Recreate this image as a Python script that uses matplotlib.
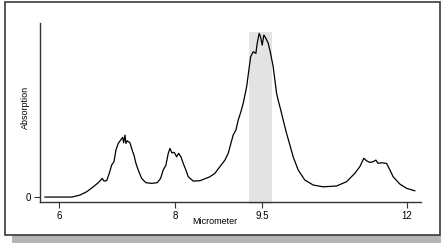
import matplotlib
matplotlib.use("Agg")
import matplotlib.pyplot as plt
from matplotlib.patches import Rectangle

micrometer = [5.753, 6.219, 6.358, 6.473, 6.587, 6.674, 6.743, 6.772, 6.819, 6.864,
              6.905, 6.945, 6.979, 7.019, 7.060, 7.095, 7.112, 7.135, 7.152, 7.174,
              7.221, 7.268, 7.290, 7.325, 7.364, 7.423, 7.497, 7.596, 7.693, 7.751,
              7.796, 7.843, 7.883, 7.912, 7.946, 7.986, 8.028, 8.062, 8.102, 8.142,
              8.188, 8.228, 8.314, 8.430, 8.603, 8.689, 8.775, 8.862, 8.919, 9.005,
              9.052, 9.092, 9.138, 9.178,
              9.237, 9.276, 9.306, 9.351, 9.397, 9.420, 9.454, 9.478, 9.506, 9.535,
              9.570, 9.610, 9.651, 9.696, 9.725, 9.755, 9.782, 9.812, 9.841, 9.869,
              9.898, 9.927, 9.985, 10.041,
              10.128, 10.243, 10.387, 10.560, 10.791, 10.964, 11.107, 11.193, 11.262,
              11.309, 11.366, 11.423, 11.470, 11.509, 11.568, 11.655, 11.699, 11.769,
              11.884, 12.000, 12.143]
absorption = [0.0, 0.0, 0.012, 0.032, 0.062, 0.087, 0.113, 0.097, 0.099, 0.144,
              0.194, 0.214, 0.285, 0.325, 0.345, 0.362, 0.329, 0.376, 0.325, 0.341,
              0.329, 0.275, 0.255, 0.204, 0.164, 0.113, 0.087, 0.083, 0.087, 0.113,
              0.164, 0.194, 0.265, 0.295, 0.268, 0.271, 0.244, 0.265, 0.244, 0.204,
              0.164, 0.123, 0.097, 0.099, 0.123, 0.144, 0.184, 0.224, 0.265, 0.376,
              0.406, 0.467, 0.517, 0.568,
              0.668, 0.770, 0.850, 0.881, 0.871, 0.932, 0.992, 0.971, 0.921, 0.982,
              0.962, 0.932, 0.871, 0.790, 0.709, 0.628, 0.588, 0.547, 0.507, 0.467,
              0.426, 0.386, 0.315, 0.244,
              0.164, 0.103, 0.073, 0.062, 0.067, 0.093, 0.144, 0.184, 0.235,
              0.220, 0.210, 0.214, 0.224, 0.204, 0.208, 0.204, 0.174, 0.123,
              0.079, 0.053, 0.038]

xticks = [6, 8, 9.5, 12]
xticklabels = ["6", "8", "9.5", "12"]
yticks = [0]
yticklabels = ["0"]
band = (9.28, 9.68)

plt.rcParams['font.family'] = ['Liberation Sans', 'DejaVu Sans']

W, H = 441, 243
fig = plt.figure(figsize=(W / 100, H / 100), dpi=100)

# outer frame and shadow
fig.patches.append(Rectangle((12 / W, 0 / H), (W - 12) / W, 8 / H,
                             transform=fig.transFigure, facecolor='#b4b4b4',
                             edgecolor='none', zorder=-2))
fig.patches.append(Rectangle((4.5 / W, (H - 234.5) / H), (439.5 - 4.5) / W, (234.5 - 2.5) / H,
                             transform=fig.transFigure, facecolor='white',
                             edgecolor='#3a3a3a', linewidth=1.2, zorder=-1))

ax = fig.add_axes([40 / W, (H - 202) / H, (421 - 40) / W, (202 - 23) / H])
ax.set_zorder(5)
ax.set_facecolor('none')
ax.set_xlim(5.667, 12.25)
ax.set_ylim(-0.03, 1.055)

ax.axvspan(band[0], band[1], ymin=-0.009, ymax=0.949, color='#e3e3e3',
           clip_on=False, zorder=1, linewidth=0)
ax.plot(micrometer, absorption, color='black', linewidth=0.9, zorder=3)

for s in ['top', 'right']:
    ax.spines[s].set_visible(False)
for s in ['left', 'bottom']:
    ax.spines[s].set_color('#333333')
    ax.spines[s].set_linewidth(1.0)

ax.set_xticks(xticks)
ax.set_xticklabels(xticklabels)
ax.set_yticks(yticks)
ax.set_yticklabels(yticklabels)
ax.tick_params(axis='both', labelsize=7, length=4, width=0.8, color='#333333', pad=2.5)

ax.set_xlabel('Micrometer', fontsize=6.5)
ax.xaxis.set_label_coords((215 - 40) / (421 - 40), -0.085)
ax.set_ylabel('Absorption', fontsize=6.5)
ax.yaxis.set_label_coords(-0.027, 0.53)

fig.savefig('out.png', dpi=100)
